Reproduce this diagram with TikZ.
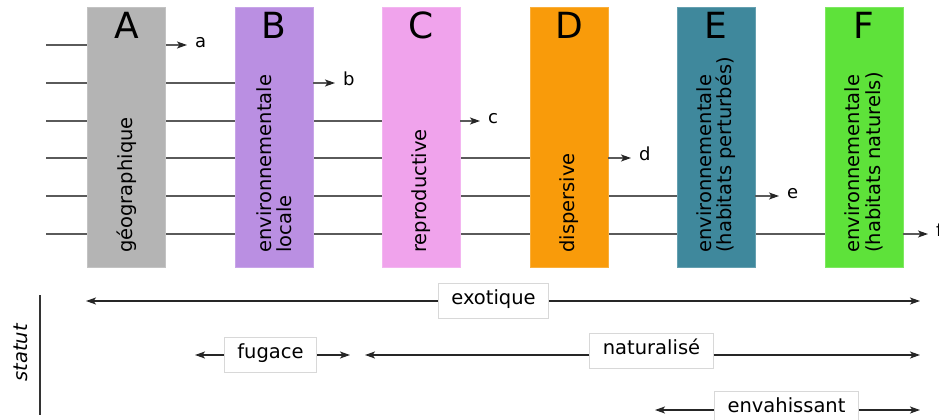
\documentclass[tikz,border=0pt]{standalone}
\usepackage{fontspec}
\setmainfont{DejaVu Sans}
\usetikzlibrary{arrows.meta,backgrounds}

\definecolor{colA}{HTML}{B4B4B4}
\definecolor{colB}{HTML}{BA8FE2}
\definecolor{colC}{HTML}{F0A3EC}
\definecolor{colD}{HTML}{F99B0A}
\definecolor{colE}{HTML}{3F889C}
\definecolor{colF}{HTML}{5EE23A}
\definecolor{linegray}{HTML}{5A5A5A}
\definecolor{tagborder}{HTML}{D8D8D8}

\begin{document}
\begin{tikzpicture}[x=1pt,y=-1pt,
  stage/.style={draw=#1!80!white, fill=#1, line width=0.6pt,
    minimum width=78pt, minimum height=260pt, inner sep=0pt, anchor=north},
  letter/.style={anchor=base, inner sep=0pt, font=\fontsize{36}{36}\selectfont},
  vtext/.style={rotate=90, anchor=west, inner sep=0pt, align=left,
    font=\fontsize{19.5}{20.5}\selectfont},
  hline/.style={draw=linegray, line width=1.2pt},
  exitarrow/.style={draw=linegray, line width=1.2pt,
    -{Stealth[length=10pt,width=7pt,inset=2.5pt,color=black!85]}},
  exitlab/.style={anchor=west, inner xsep=8pt, inner ysep=0pt,
    text height=1ex, text depth=0pt, font=\fontsize{18}{18}\selectfont},
  tag/.style={draw=tagborder, fill=white, line width=0.8pt, inner xsep=13pt,
    minimum height=35pt, text height=1.6ex, text depth=0.35ex,
    font=\fontsize{19.5}{19.5}\selectfont},
  span/.style={draw=black!85, line width=1.3pt,
    -{Stealth[length=10pt,width=7pt,inset=2.5pt]}}
]
\useasboundingbox (0,0) rectangle (939,420);

% filter stages
\node[stage=colA] (A) at (126.5,7) {};
\node[stage=colB] (B) at (274,7) {};
\node[stage=colC] (C) at (421,7) {};
\node[stage=colD] (D) at (569,7) {};
\node[stage=colE] (E) at (716,7) {};
\node[stage=colF] (F) at (864,7) {};

% stage letters
\node[letter] (LA) at (126.5,39) {A};
\node[letter] (LB) at (274,39) {B};
\node[letter] (LC) at (421,39) {C};
\node[letter] (LD) at (569,39) {D};
\node[letter] (LE) at (716,39) {E};
\node[letter] (LF) at (864,39) {F};

% stage names
\node[vtext] (tA) at (126.5,253) {géographique};
\node[vtext] (tB) at (274,253) {environnementale\\locale};
\node[vtext] (tC) at (421,253) {reproductive};
\node[vtext] (tD) at (569,253) {dispersive};
\node[vtext] (tE) at (716,253) {environnementale\\(habitats perturbés)};
\node[vtext] (tF) at (864,253) {environnementale\\(habitats naturels)};

% pathways: each enters on the left and leaves at its stage
\coordinate (s1) at (46,45);
\coordinate (s2) at (46,83);
\coordinate (s3) at (46,121);
\coordinate (s4) at (46,158);
\coordinate (s5) at (46,196);
\coordinate (s6) at (46,234);

\node[exitlab] (la) at (187,45) {a};
\node[exitlab] (lb) at (335,83) {b};
\node[exitlab] (lc) at (480,121) {c};
\node[exitlab] (ld) at (631,158) {d};
\node[exitlab] (le) at (779,196) {e};
\node[exitlab] (lf) at (928,234) {f};

\begin{scope}[on background layer]
  \foreach \k/\st in {1/A, 2/B, 3/C, 4/D, 5/E, 6/F}{
    \draw[hline] (s\k) -- (\st.west |- s\k);
  }
\end{scope}
\foreach \k/\st/\lb in {1/A/a, 2/B/b, 3/C/c, 4/D/d, 5/E/e, 6/F/f}{
  \draw[exitarrow] (\st.east |- s\k) -- (l\lb.west);
}

% status axis
\node[rotate=90, inner sep=0pt, font=\fontsize{19.5}{19.5}\selectfont\itshape] (st) at (21,353) {statut};
\draw[line width=1.3pt, draw=black!80] (40,295) -- (40,415);

% exotique
\coordinate (exL) at (86,301);
\coordinate (exR) at (920,301);
\node[tag] (exo) at (493.5,301) {exotique};
\draw[span] (exo.west) -- (exL);
\draw[span] (exo.east) -- (exR);

% fugace
\coordinate (fuL) at (195,355);
\coordinate (fuR) at (350,355);
\node[tag] (fug) at (270.5,355) {fugace};
\draw[span] (fug.west) -- (fuL);
\draw[span] (fug.east) -- (fuR);

% naturalise
\coordinate (naL) at (365,355);
\coordinate (naR) at (920,355);
\node[tag] (nat) at (651.5,351) {naturalisé};
\draw[span] (nat.west |- naL) -- (naL);
\draw[span] (nat.east |- naR) -- (naR);

% envahissant
\coordinate (enL) at (655,410);
\coordinate (enR) at (920,410);
\node[tag] (env) at (786.5,409) {envahissant};
\draw[span] (env.west |- enL) -- (enL);
\draw[span] (env.east |- enR) -- (enR);
\end{tikzpicture}
\end{document}
